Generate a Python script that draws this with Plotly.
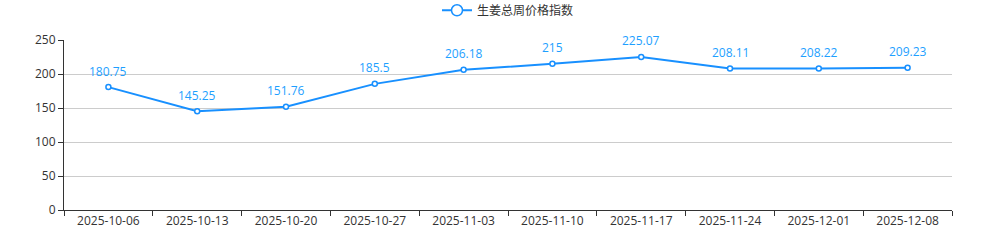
import plotly.graph_objects as go

dates = ["2025-10-06", "2025-10-13", "2025-10-20", "2025-10-27", "2025-11-03",
         "2025-11-10", "2025-11-17", "2025-11-24", "2025-12-01", "2025-12-08"]
values = [180.75, 145.25, 151.76, 185.5, 206.18, 215, 225.07, 208.11, 208.22, 209.23]
labels = ["180.75", "145.25", "151.76", "185.5", "206.18", "215", "225.07", "208.11", "208.22", "209.23"]
series_name = "生姜总周价格指数"
y_ticks = [0, 50, 100, 150, 200, 250]

BLUE = "#1890ff"
FONT = "Open Sans, Noto Sans CJK SC, sans-serif"

fig = go.Figure()
fig.add_trace(go.Scatter(
    x=dates, y=values, mode="lines+markers",
    line=dict(color=BLUE, width=2),
    marker=dict(size=5, color="white", line=dict(color=BLUE, width=1.5)),
    name=series_name, showlegend=False, cliponaxis=False,
))
for d, v, t in zip(dates, values, labels):
    fig.add_annotation(x=d, y=v, text=t, showarrow=False, yshift=16,
                       font=dict(color="#1e9fff", size=12, family=FONT))
# legend entry
fig.add_trace(go.Scatter(
    x=[None], y=[None], mode="lines+markers", name=series_name,
    line=dict(color=BLUE, width=2),
    marker=dict(size=11, color="white", line=dict(color=BLUE, width=1.5)),
))

fig.update_layout(
    width=986, height=245,
    margin=dict(l=64, r=34, t=40, b=35, autoexpand=False),
    paper_bgcolor="white", plot_bgcolor="white",
    font=dict(family=FONT, size=12, color="#333"),
    showlegend=True,
    legend=dict(orientation="h", x=0.5, xanchor="center", y=0.958, yanchor="middle",
                yref="container",
                font=dict(size=12, color="#333", family="Noto Sans CJK SC, sans-serif"),
                itemwidth=30),
    xaxis=dict(
        type="category", range=[-0.5, len(dates) - 0.5],
        tickson="boundaries", ticks="outside", ticklen=5, tickcolor="#333",
        showline=True, linecolor="#333", linewidth=1, showgrid=False,
        tickfont=dict(size=12, color="#333"),
    ),
    yaxis=dict(
        range=[0, 250], tickvals=y_ticks, ticks="outside", ticklen=5, tickcolor="#333",
        showline=True, linecolor="#333", linewidth=1,
        showgrid=True, gridcolor="#ccc", gridwidth=1, zeroline=False,
        tickfont=dict(size=12, color="#333"),
    ),
)
fig.write_html("out.html")
